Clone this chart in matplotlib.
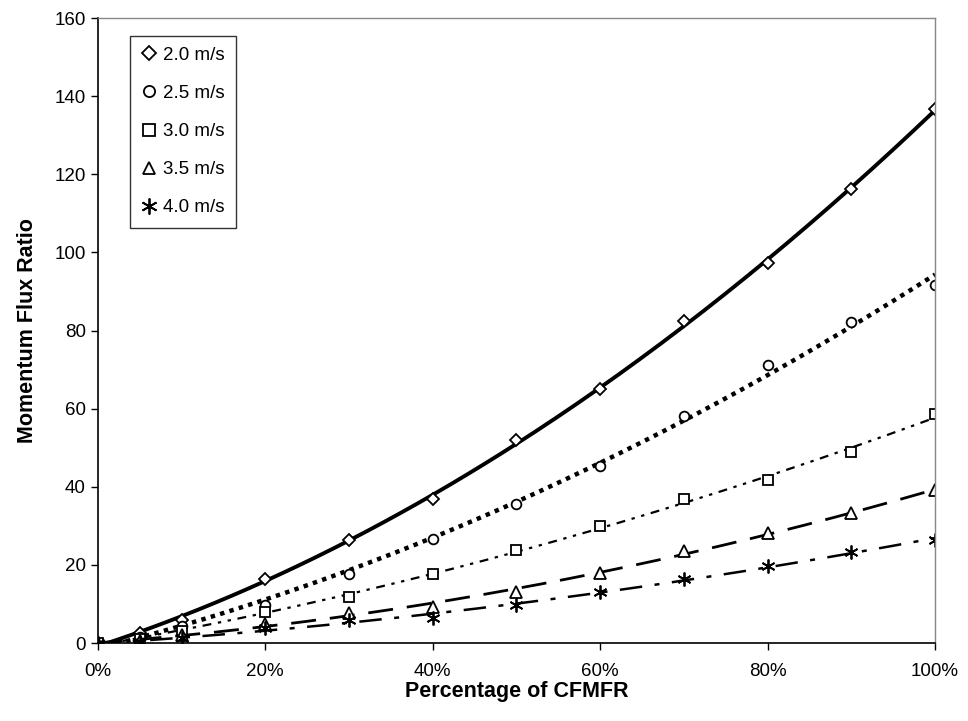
import numpy as np
from matplotlib import pyplot as plt
from matplotlib.ticker import FuncFormatter

plt.rcParams["font.family"] = ["Liberation Sans", "DejaVu Sans"]

pct = [0, 5, 10, 20, 30, 40, 50, 60, 70, 80, 90, 100]
v20 = [0, 2.5, 6, 16.5, 26.3, 36.8, 52, 65, 82.5, 97.4, 116.3, 136.6]
v25 = [0, 1.5, 4.5, 9.7, 17.8, 26.6, 35.7, 45.4, 58.2, 71.3, 82.3, 91.6]
v30 = [0, 1, 3, 8, 11.7, 17.8, 23.8, 30, 36.8, 41.7, 48.9, 58.6]
v35 = [0, 0.6, 2, 5, 7.8, 9.3, 13.2, 17.9, 23.5, 28.2, 33.2, 39.2]
v40 = [0, 0.3, 1.2, 3.8, 5.9, 6.4, 9.7, 13.1, 16.3, 19.7, 23.3, 26.5]

labels = ["2.0 m/s", "2.5 m/s", "3.0 m/s", "3.5 m/s", "4.0 m/s"]
series = [v20, v25, v30, v35, v40]
markers = ["D", "o", "s", "^", (6, 2, 0)]
msizes = [6, 7, 7, 8, 10]
styles = ["-", (0, (1, 1.2)), (0, (4, 3, 1.5, 3, 1.5, 3)), (0, (9, 5)), (0, (9, 5, 2, 5))]
widths = [2.8, 3.2, 1.6, 2.0, 1.8]

fig = plt.figure(figsize=(9.68, 7.21), dpi=100)
ax = fig.add_axes([0.101, 0.108, 0.865, 0.867])

x = np.array(pct)
xs = np.linspace(0, 100, 200)
for vals, lab, m, ms, ls, lw in zip(series, labels, markers, msizes, styles, widths):
    # Excel-style polynomial trendline through the measured points
    coef = np.polyfit(x, vals, 2)
    ax.plot(xs, np.polyval(coef, xs), color="black", linestyle=ls, linewidth=lw)
    ax.plot(x, vals, linestyle="", marker=m, markersize=ms, markerfacecolor="white",
            markeredgecolor="black", markeredgewidth=1.3, label=lab)

ax.set_xlim(0, 100)
ax.set_ylim(0, 160)
ax.set_xticks(range(0, 101, 20))
ax.set_yticks(range(0, 161, 20))
ax.xaxis.set_major_formatter(FuncFormatter(lambda v, p: f"{int(v)}%"))
ax.tick_params(labelsize=13.5, direction="out", length=5, width=1)
ax.tick_params(axis="x", pad=9)
ax.set_xlabel("Percentage of CFMFR", fontsize=15.5, fontweight="bold", labelpad=1)
ax.set_ylabel("Momentum Flux Ratio", fontsize=15.5, fontweight="bold", labelpad=12)

for s in ["top", "right"]:
    ax.spines[s].set_color("#888888")
    ax.spines[s].set_linewidth(1)
for s in ["left", "bottom"]:
    ax.spines[s].set_linewidth(1.2)

leg = ax.legend(loc="upper left", bbox_to_anchor=(0.039, 0.972), fontsize=13.5,
                frameon=True, fancybox=False, edgecolor="black", handlelength=0.8,
                handletextpad=0.35, labelspacing=1.12, borderpad=0.6, borderaxespad=0,
                markerscale=1.15)
leg.get_frame().set_linewidth(1)

fig.savefig("out.png", dpi=100)
